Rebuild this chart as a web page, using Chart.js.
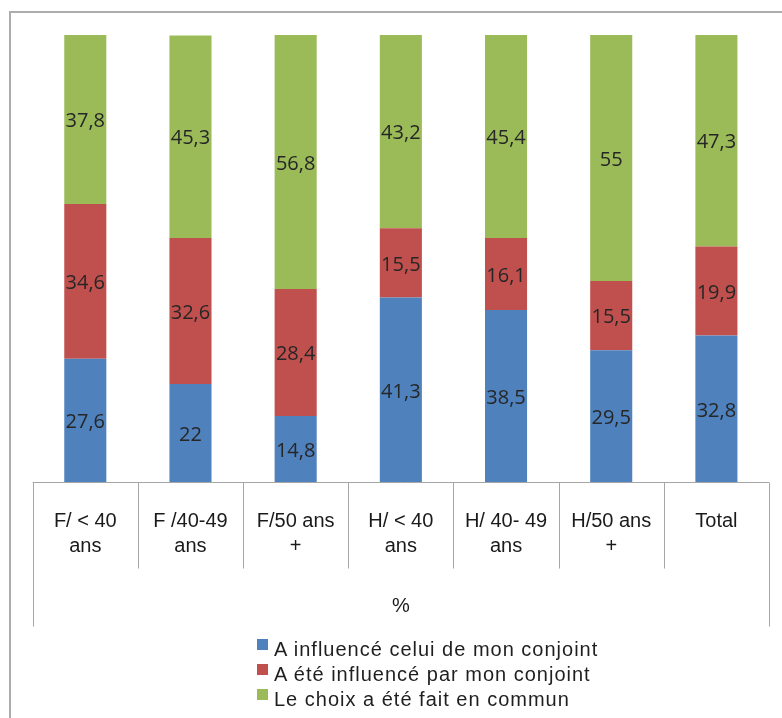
<!DOCTYPE html>
<html>
<head>
<meta charset="utf-8">
<script src="https://cdn.jsdelivr.net/npm/chart.js@4.4.1/dist/chart.umd.min.js"></script>
<style>
  body { margin: 0; background: #fff; }
  #wrap { position: absolute; left: 0; top: 0; width: 782px; height: 718px; overflow: hidden; }
  #frame { position: absolute; left: 9px; top: 11px; width: 900px; height: 900px; border: 2px solid #adadad; }
  canvas { position: absolute; left: 0; top: 0; }
  #legend { position: absolute; left: 257px; top: 637px; font: 20px "Liberation Sans", Arial, sans-serif; color: #1f1f1f; letter-spacing: 1px; }
  .item { height: 25px; line-height: 25px; display: flex; align-items: flex-start; white-space: nowrap; }
  .box { width: 11px; height: 11px; margin-top: 2px; margin-right: 6px; }
</style>
</head>
<body>
<div id="wrap">
  <div id="frame"></div>
  <canvas id="chart" width="782" height="718"></canvas>
  <div id="legend"></div>
</div>
<script>
// categories (two-line labels as in the original)
const categories = [
  ["F/ < 40", "ans"],
  ["F /40-49", "ans"],
  ["F/50 ans", "+"],
  ["H/ < 40", "ans"],
  ["H/ 40- 49", "ans"],
  ["H/50 ans", "+"],
  ["Total"]
];
const seriesNames = [
  "A influencé celui de mon conjoint",
  "A été influencé par mon conjoint",
  "Le choix a été fait en commun"
];
const influenceConjoint = [27.6, 22, 14.8, 41.3, 38.5, 29.5, 32.8];
const influenceParConjoint = [34.6, 32.6, 28.4, 15.5, 16.1, 15.5, 19.9];
const choixCommun = [37.8, 45.3, 56.8, 43.2, 45.4, 55, 47.3];
const seriesColors = ["#4F81BD", "#C0504D", "#9BBB59"];
const axisTitle = "%";

const seriesValues = [influenceConjoint, influenceParConjoint, choixCommun];

// value labels centred in each segment
const valueLabels = {
  id: "valueLabels",
  afterDatasetsDraw(chart) {
    const ctx = chart.ctx;
    ctx.save();
    ctx.font = '20px "Open Sans", sans-serif';
    ctx.fillStyle = "#262626";
    ctx.textAlign = "center";
    ctx.textBaseline = "middle";
    chart.data.datasets.forEach((ds, i) => {
      chart.getDatasetMeta(i).data.forEach((bar, j) => {
        const txt = String(ds.data[j]).replace(".", ",");
        ctx.fillText(txt, bar.x, (bar.y + bar.base) / 2 + 2);
      });
    });
    ctx.restore();
  }
};

// table-like grid under the bars
const categoryTable = {
  id: "categoryTable",
  afterDraw(chart) {
    const ctx = chart.ctx;
    const xs = chart.scales.x;
    const n = chart.data.labels.length;
    const y0 = Math.round(chart.chartArea.bottom) + 0.5;
    ctx.save();
    ctx.strokeStyle = "#a6a6a6";
    ctx.lineWidth = 1;
    ctx.beginPath();
    ctx.moveTo(xs.left, y0);
    ctx.lineTo(xs.right, y0);
    for (let i = 0; i <= n; i++) {
      let bx;
      if (i === 0) bx = xs.left;
      else if (i === n) bx = xs.right;
      else bx = (xs.getPixelForValue(i - 1) + xs.getPixelForValue(i)) / 2;
      bx = Math.round(bx) + 0.5;
      const len = (i === 0 || i === n) ? 144 : 86;
      ctx.moveTo(bx, y0);
      ctx.lineTo(bx, y0 + len);
    }
    ctx.stroke();
    ctx.restore();
  }
};

const datasets = seriesNames.map((name, i) => ({
  label: name,
  data: seriesValues[i],
  backgroundColor: seriesColors[i],
  borderWidth: 0,
  barPercentage: 0.4,
  categoryPercentage: 1
}));

new Chart(document.getElementById("chart"), {
  type: "bar",
  data: { labels: categories, datasets: datasets },
  options: {
    responsive: false,
    animation: false,
    layout: { padding: { left: 32.7, right: 13, top: 35, bottom: 0 } },
    plugins: { legend: { display: false }, tooltip: { enabled: false } },
    scales: {
      x: {
        stacked: true,
        grid: { display: false },
        border: { display: false },
        ticks: {
          color: "#1a1a1a",
          padding: 18.5,
          maxRotation: 0,
          autoSkip: false,
          font: { family: '"Liberation Sans", Arial, sans-serif', size: 20, lineHeight: 1.27 }
        },
        title: {
          display: true,
          text: axisTitle,
          color: "#1a1a1a",
          padding: { top: 0, bottom: 100 },
          font: { family: '"Liberation Sans", Arial, sans-serif', size: 20, lineHeight: 1.2 }
        },
        afterFit(s) { s.height = 235.7; }
      },
      y: { stacked: true, display: false, min: 0, max: 100 }
    }
  },
  plugins: [valueLabels, categoryTable]
});

// legend stacked vertically, as in the original
const legend = document.getElementById("legend");
seriesNames.forEach((name, i) => {
  const item = document.createElement("div");
  item.className = "item";
  const box = document.createElement("span");
  box.className = "box";
  box.style.background = seriesColors[i];
  item.appendChild(box);
  item.appendChild(document.createTextNode(name));
  legend.appendChild(item);
});
</script>
</body>
</html>
